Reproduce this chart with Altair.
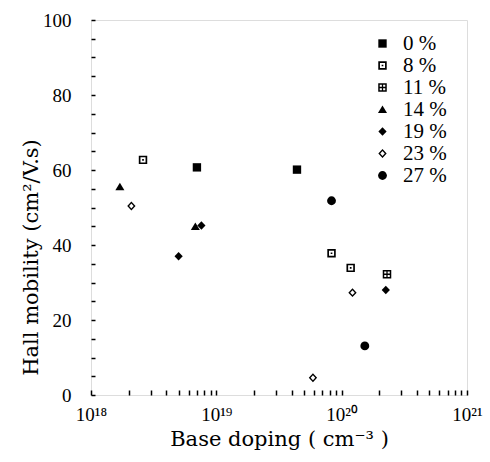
import altair as alt
import pandas as pd

# ---- data ----
series = ["0 %", "8 %", "11 %", "14 %", "19 %", "23 %", "27 %"]

doping = [7.0e18, 4.4e19,
          2.6e18, 8.3e19, 1.18e20,
          2.3e20,
          1.7e18, 6.8e18,
          5.0e18, 7.6e18, 2.25e20,
          2.1e18, 1.22e20, 5.9e19,
          8.3e19, 1.53e20]
mobility = [60.7, 60.1,
            62.7, 37.8, 33.9,
            32.2,
            55.5, 44.9,
            37.0, 45.2, 28.0,
            50.4, 27.3, 4.6,
            51.8, 13.1]
group = ["0 %", "0 %",
         "8 %", "8 %", "8 %",
         "11 %",
         "14 %", "14 %",
         "19 %", "19 %", "19 %",
         "23 %", "23 %", "23 %",
         "27 %", "27 %"]

x_labels = ["10¹⁸", "10¹⁹", "10²⁰", "10²¹"]
x_label_values = [1e18, 1e19, 1e20, 1e21]
x_minor_ticks = [m * 10.0 ** e for e in (18, 19, 20) for m in range(2, 10)]
y_tick_values = list(range(0, 101, 5))

# ---- marker shapes ----
shapes = [
    "square",
    # open square with centre dot
    "M-1,-1H1V1H-1Z M-0.6,-0.6V0.6H0.6V-0.6Z M-0.2,-0.2H0.2V0.2H-0.2Z",
    # square with a cross inside
    "M-1,-1H1V1H-1Z M-0.65,-0.65V-0.15H-0.15V-0.65Z M0.15,-0.65V-0.15H0.65V-0.65Z "
    "M-0.65,0.15V0.65H-0.15V0.15Z M0.15,0.15V0.65H0.65V0.15Z",
    "M0,-0.95L1.05,0.8L-1.05,0.8Z",
    "M0,-1L0.95,0L0,1L-0.95,0Z",
    "M0,-1L0.95,0L0,1L-0.95,0Z M0,-0.55L-0.52,0L0,0.55L0.52,0Z",
    "circle",
]
sizes = [70, 78, 78, 110, 120, 130, 55]

W, H = 376, 375
FONT = "Liberation Serif"
TFONT = "DejaVu Serif"

df = pd.DataFrame({"doping": doping, "mobility": mobility, "group": group})

xscale = alt.Scale(type="log", domain=[1e18, 1e21], nice=False)
yscale = alt.Scale(domain=[0, 100], nice=False)

label_expr = " : ".join(
    f"datum.value == {v:.0e} ? '{t}'".replace("e+", "e") for v, t in zip(x_label_values, x_labels)
) + " : ''"

x_axis = alt.Axis(values=x_label_values + x_minor_ticks, labelExpr=label_expr,
                  ticks=True, tickSize=alt.ExprRef(expr="-5"), tickColor="black",
                  tickWidth=1.5, labelOverlap=False, labelBound=False,
                  domain=False, grid=False, labelFont=FONT, labelFontSize=19,
                  labelBaseline="alphabetic", labelPadding=30, labelColor="black",
                  labelFlush=False,
                  title="Base doping ( cm⁻³ )", titleFont=TFONT, titleFontSize=21,
                  titleFontWeight="normal", titleBaseline="alphabetic", titleY=50,
                  titleColor="black")
y_axis = alt.Axis(values=y_tick_values,
                  labelExpr="datum.value % 20 == 0 ? datum.label : ''",
                  ticks=True, tickSize=alt.ExprRef(expr="-4"), tickColor="black",
                  tickWidth=1.5, labelOverlap=False, labelBound=False,
                  domain=False, grid=False,
                  labelFont=FONT, labelFontSize=19, labelPadding=24, labelColor="black",
                  labelFlush=False,
                  title="Hall mobility (cm²/V.s)", titleFont=TFONT, titleFontSize=21,
                  titleFontWeight="normal", titleAngle=270, titleAlign="center",
                  titleBaseline="middle", titleX=-60, titleY=237, titleColor="black")

legend_kw = dict(title=None, orient="none", legendX=281, legendY=13,
                 labelFont=FONT, labelFontSize=21, labelColor="black",
                 labelOffset=10, rowPadding=0, padding=0,
                 symbolFillColor="black", symbolStrokeWidth=0)

chart = alt.Chart(df).mark_point(filled=True, opacity=1, strokeWidth=0, color="black").encode(
    x=alt.X("doping:Q", scale=xscale, axis=x_axis),
    y=alt.Y("mobility:Q", scale=yscale, axis=y_axis),
    shape=alt.Shape("group:N", scale=alt.Scale(domain=series, range=shapes),
                    legend=alt.Legend(**legend_kw)),
    size=alt.Size("group:N", scale=alt.Scale(domain=series, range=sizes),
                  legend=alt.Legend(**legend_kw)),
).properties(
    width=W, height=H,
    padding={"left": 91, "top": 20, "right": 23, "bottom": 67},
    autosize="none",
).configure_view(stroke="black", strokeWidth=2).configure(background="white")

chart.save("out.html", embed_options={"renderer": "svg", "actions": False})
